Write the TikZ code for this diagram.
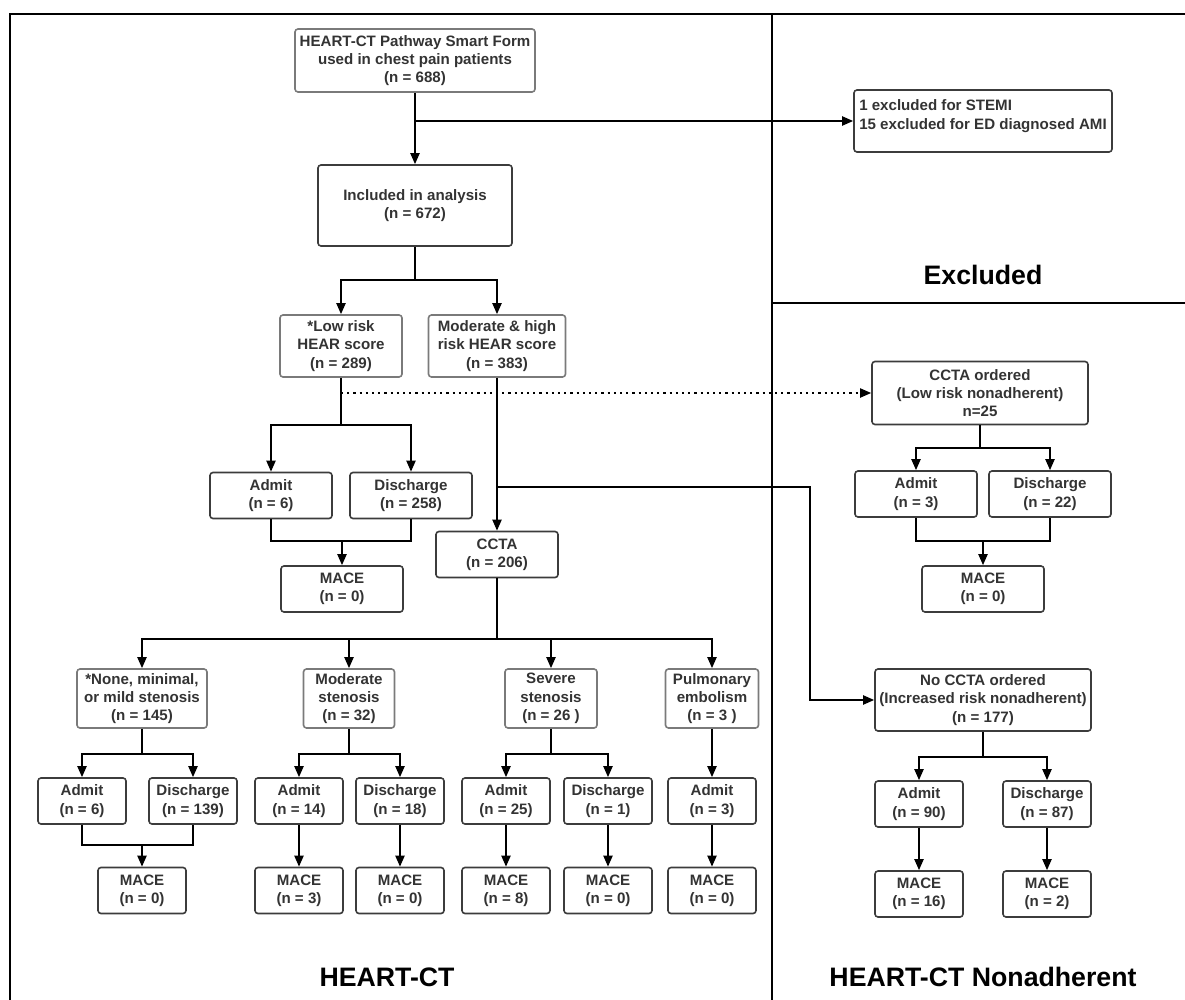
\documentclass[tikz,border=0pt]{standalone}
\usepackage{fontspec}
\setmainfont{Liberation Sans}
\usetikzlibrary{shapes, arrows.meta, positioning}

\definecolor{boxline}{HTML}{3C3C3C}
\definecolor{lightline}{HTML}{7A7A7A}
\definecolor{boxtext}{HTML}{333333}

\newcommand{\boxfont}{\fontsize{15.1}{18.3}\selectfont\bfseries}
\newcommand{\lanefont}{\fontsize{26.7}{30}\selectfont\bfseries}

\tikzset{
  flowbox/.style={draw=boxline, line width=1.6pt, rounded corners=3pt, text=boxtext,
    font=\boxfont, align=center, inner sep=2pt},
  greybox/.style={flowbox, draw=lightline},
  narrowbox/.style={minimum width=88pt, minimum height=46pt},
  widebox/.style={minimum width=122pt, minimum height=46pt},
  flowline/.style={line width=2pt},
  flowarrow/.style={flowline, -{Triangle[length=11pt, width=9pt]}},
  laneline/.style={line width=2pt},
  lanetitle/.style={font=\lanefont}
}

\begin{document}
\begin{tikzpicture}[x=1pt, y=1pt, node distance=90pt]
  \useasboundingbox (0,0) rectangle (1185,-1000);

  % lanes
  \draw [laneline] (10,-1000) -- (10,-14) -- (1185,-14);
  \draw [laneline] (772,-14) -- (772,-1000);
  \draw [laneline] (772,-303) -- (1185,-303);
  \node [lanetitle] (tmain) at (387,-977) {HEART-CT};
  \node [lanetitle] (texcl) at (983,-275) {Excluded};
  \node [lanetitle] (tnon) at (983,-977) {HEART-CT Nonadherent};

  % top of the pathway
  \node [greybox, minimum width=240pt, minimum height=63pt] (form) at (415,-60.5)
    {HEART-CT Pathway Smart Form\\used in chest pain patients\\(n = 688)};
  \node [flowbox, minimum width=258pt, minimum height=62pt, align=left, text depth=13pt] (excl) at (983,-121)
    {1 excluded for STEMI\\15 excluded for ED diagnosed AMI};
  \node [flowbox, below of=form, node distance=145pt, minimum width=194pt, minimum height=81pt] (incl)
    {Included in analysis\\(n = 672)};

  \node [greybox, below of=incl, node distance=140.5pt, xshift=-74pt, minimum width=122pt, minimum height=62pt] (low)
    {*Low risk\\HEAR score\\(n = 289)};
  \node [greybox, right of=low, node distance=156pt, minimum width=137pt, minimum height=62pt] (mod)
    {Moderate \& high\\risk HEAR score\\(n = 383)};

  \node [flowbox, widebox, below of=low, node distance=149.5pt, xshift=-70pt] (admitlow) {Admit\\(n = 6)};
  \node [flowbox, widebox, right of=admitlow, node distance=140pt] (dischlow) {Discharge\\(n = 258)};
  \node [flowbox, widebox, below of=low, node distance=243pt, xshift=1pt] (macelow) {MACE\\(n = 0)};
  \node [flowbox, widebox, below of=mod, node distance=208.5pt] (ccta) {CCTA\\(n = 206)};

  % nonadherent side
  \node [flowbox, minimum width=216pt, minimum height=63pt] (ordered) at (980,-393)
    {CCTA ordered\\(Low risk nonadherent)\\n=25};
  \node [flowbox, widebox, below of=ordered, node distance=101pt, xshift=-64pt] (admitord) {Admit\\(n = 3)};
  \node [flowbox, widebox, right of=admitord, node distance=134pt] (dischord) {Discharge\\(n = 22)};
  \node [flowbox, widebox, below of=ordered, node distance=196pt, xshift=3pt] (maceord) {MACE\\(n = 0)};

  \node [flowbox, below of=maceord, node distance=111pt, minimum width=216pt, minimum height=62pt] (noccta)
    {No CCTA ordered\\(Increased risk nonadherent)\\(n = 177)};
  \node [flowbox, narrowbox, below of=noccta, node distance=104pt, xshift=-64pt] (admitno) {Admit\\(n = 90)};
  \node [flowbox, narrowbox, right of=admitno, node distance=128pt] (dischno) {Discharge\\(n = 87)};
  \node [flowbox, narrowbox, below of=admitno, node distance=90pt] (maceadmno) {MACE\\(n = 16)};
  \node [flowbox, narrowbox, below of=dischno, node distance=90pt] (macedisno) {MACE\\(n = 2)};

  % CCTA results
  \node [greybox, minimum width=130pt, minimum height=59pt] (nonest) at (142,-698.5)
    {*None, minimal,\\or mild stenosis\\(n = 145)};
  \node [greybox, right of=nonest, node distance=207pt, minimum width=91pt, minimum height=59pt] (modst)
    {Moderate\\stenosis\\(n = 32)};
  \node [greybox, right of=modst, node distance=202pt, minimum width=92pt, minimum height=59pt] (sevst)
    {Severe\\stenosis\\(n = 26 )};
  \node [greybox, right of=sevst, node distance=161pt, minimum width=93pt, minimum height=59pt] (pemb)
    {Pulmonary\\embolism\\(n = 3 )};

  \node [flowbox, narrowbox, below of=nonest, node distance=102.5pt, xshift=-60pt] (admitnone) {Admit\\(n = 6)};
  \node [flowbox, narrowbox, right of=admitnone, node distance=111pt] (dischnone) {Discharge\\(n = 139)};
  \node [flowbox, narrowbox, below of=nonest, node distance=192pt] (macenone) {MACE\\(n = 0)};

  \node [flowbox, narrowbox, below of=modst, node distance=102.5pt, xshift=-50pt] (admitmod) {Admit\\(n = 14)};
  \node [flowbox, narrowbox, right of=admitmod, node distance=101pt] (dischmod) {Discharge\\(n = 18)};
  \node [flowbox, narrowbox, below of=admitmod, node distance=89.5pt] (maceadmmod) {MACE\\(n = 3)};
  \node [flowbox, narrowbox, below of=dischmod, node distance=89.5pt] (macedismod) {MACE\\(n = 0)};

  \node [flowbox, narrowbox, below of=sevst, node distance=102.5pt, xshift=-45pt] (admitsev) {Admit\\(n = 25)};
  \node [flowbox, narrowbox, right of=admitsev, node distance=102pt] (dischsev) {Discharge\\(n = 1)};
  \node [flowbox, narrowbox, below of=admitsev, node distance=89.5pt] (maceadmsev) {MACE\\(n = 8)};
  \node [flowbox, narrowbox, below of=dischsev, node distance=89.5pt] (macedissev) {MACE\\(n = 0)};

  \node [flowbox, narrowbox, below of=pemb, node distance=102.5pt] (admitpe) {Admit\\(n = 3)};
  \node [flowbox, narrowbox, below of=admitpe, node distance=89.5pt] (macepe) {MACE\\(n = 0)};

  % split and join points
  \coordinate (exclsplit) at (form.south |- excl.west);
  \coordinate [below=33pt of incl.south] (inclsplit);
  \coordinate [below=47pt of low.south] (lowsplit);
  \coordinate (dotstart) at (low.south |- ordered.west);
  \coordinate [above=24pt of macelow.north] (lowjoin);
  \coordinate [below=109pt of mod.south] (modsplit);
  \coordinate [below=61pt of ccta.south] (cctasplit);
  \coordinate [below=23pt of ordered.south] (ordsplit);
  \coordinate [above=24pt of maceord.north] (ordjoin);
  \coordinate [below=25pt of noccta.south] (nosplit);
  \coordinate [below=25pt of nonest.south] (nonesplit);
  \coordinate [above=22pt of macenone.north] (nonejoin);
  \coordinate [below=25pt of modst.south] (modstsplit);
  \coordinate [below=25pt of sevst.south] (sevsplit);

  % connectors
  \draw [flowarrow] (form) -- (incl);
  \draw [flowarrow] (exclsplit) -- (excl);
  \draw [flowline] (incl) -- (inclsplit);
  \draw [flowarrow] (inclsplit) -| (low.north);
  \draw [flowarrow] (inclsplit) -| (mod.north);

  \draw [flowline] (low) -- (lowsplit);
  \draw [flowarrow] (lowsplit) -| (admitlow.north);
  \draw [flowarrow] (lowsplit) -| (dischlow.north);
  \draw [flowarrow, line width=1.8pt, dash pattern=on 2.2pt off 4pt] (dotstart) -- (ordered);
  \draw [flowline] (admitlow.south) |- (lowjoin) -| (dischlow.south);
  \draw [flowarrow] (lowjoin) -- (macelow);

  \draw [flowarrow] (mod) -- (ccta);
  \draw [flowarrow] (modsplit) -| ([xshift=-64pt]noccta.west) -- (noccta);

  \draw [flowline] (ordered) -- (ordsplit);
  \draw [flowarrow] (ordsplit) -| (admitord.north);
  \draw [flowarrow] (ordsplit) -| (dischord.north);
  \draw [flowline] (admitord.south) |- (ordjoin) -| (dischord.south);
  \draw [flowarrow] (ordjoin) -- (maceord);

  \draw [flowline] (noccta) -- (nosplit);
  \draw [flowarrow] (nosplit) -| (admitno.north);
  \draw [flowarrow] (nosplit) -| (dischno.north);
  \draw [flowarrow] (admitno) -- (maceadmno);
  \draw [flowarrow] (dischno) -- (macedisno);

  \draw [flowline] (ccta) -- (cctasplit);
  \draw [flowarrow] (cctasplit) -| (nonest.north);
  \draw [flowarrow] (cctasplit) -| (modst.north);
  \draw [flowarrow] (cctasplit) -| (sevst.north);
  \draw [flowarrow] (cctasplit) -| (pemb.north);

  \draw [flowline] (nonest) -- (nonesplit);
  \draw [flowarrow] (nonesplit) -| (admitnone.north);
  \draw [flowarrow] (nonesplit) -| (dischnone.north);
  \draw [flowline] (admitnone.south) |- (nonejoin) -| (dischnone.south);
  \draw [flowarrow] (nonejoin) -- (macenone);

  \draw [flowline] (modst) -- (modstsplit);
  \draw [flowarrow] (modstsplit) -| (admitmod.north);
  \draw [flowarrow] (modstsplit) -| (dischmod.north);
  \draw [flowarrow] (admitmod) -- (maceadmmod);
  \draw [flowarrow] (dischmod) -- (macedismod);

  \draw [flowline] (sevst) -- (sevsplit);
  \draw [flowarrow] (sevsplit) -| (admitsev.north);
  \draw [flowarrow] (sevsplit) -| (dischsev.north);
  \draw [flowarrow] (admitsev) -- (maceadmsev);
  \draw [flowarrow] (dischsev) -- (macedissev);

  \draw [flowarrow] (pemb) -- (admitpe);
  \draw [flowarrow] (admitpe) -- (macepe);
\end{tikzpicture}
\end{document}
